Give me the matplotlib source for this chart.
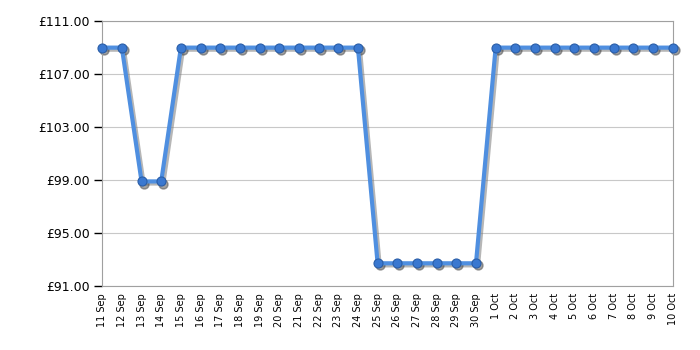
import matplotlib

matplotlib.use("Agg")

import matplotlib.pyplot as plt
import matplotlib.transforms as mtransforms
import numpy as np
import pandas as pd

# daily price history, 11 Sep - 10 Oct
dates = pd.date_range("2023-09-11", "2023-10-10", freq="D")
date_labels = [f"{d.day} {d.strftime('%b')}" for d in dates]
prices = (
    [108.99, 108.99]
    + [98.89, 98.89]
    + [108.99] * 10
    + [92.71] * 6
    + [108.99] * 10
)
y_ticks = [91, 95, 99, 103, 107, 111]

fig = plt.figure(figsize=(7, 3.5), dpi=100)
ax = fig.add_axes([0.146, 0.183, 0.815, 0.757])

x = np.arange(len(dates))

# soft drop shadow, offset right/down
shadow = mtransforms.offset_copy(ax.transData, fig=fig, x=1.5, y=-1.5, units="points")
ax.plot(x, prices, color="#7a7a7a", lw=3, marker="o", ms=6.5, mfc="#555555",
        mec="#555555", alpha=0.55, transform=shadow, zorder=2, clip_on=False)

ax.plot(x, prices, color="#4f8fe0", lw=3, marker="o", ms=6.5,
        mfc="#3a78d0", mec="#2a5ea8", mew=0.8, zorder=3, clip_on=False)

ax.set_xlim(0, len(dates) - 1)
ax.set_ylim(91, 111)
ax.set_yticks(y_ticks)
ax.set_yticklabels([f"£{v:.2f}" for v in y_ticks], fontsize=9)

ax.set_xticks(x)
ax.set_xticklabels(date_labels, rotation=90, fontsize=7)
ax.tick_params(axis="x", which="major", length=0, pad=5)
ax.set_xticks(x[1::3], minor=True)
ax.tick_params(axis="x", which="minor", length=5, width=1, color="black")
ax.tick_params(axis="y", length=6, width=1, color="black", pad=3)

ax.grid(True, axis="y", color="#c8c8c8", lw=0.8)
ax.grid(True, axis="x", which="minor", color="#c8c8c8", lw=0.8)
ax.set_axisbelow(True)
for s in ax.spines.values():
    s.set_color("#a0a0a0")

fig.savefig("out.png", dpi=100)
